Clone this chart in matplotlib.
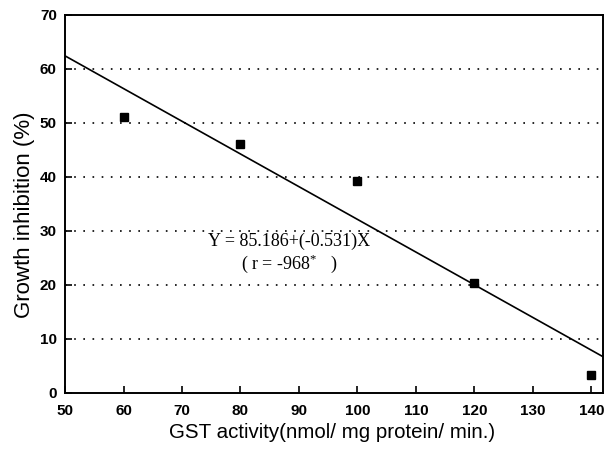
import matplotlib
matplotlib.use("Agg")
import matplotlib.pyplot as plt
import numpy as np

plt.rcParams["font.family"] = ["Liberation Sans", "DejaVu Sans"]
plt.rcParams["mathtext.fontset"] = "custom"
plt.rcParams["mathtext.rm"] = "Liberation Serif"
plt.rcParams["mathtext.default"] = "rm"

# measured points
gst = [60, 80, 100, 120, 140]
inhibition = [51.0, 46.1, 39.2, 20.4, 3.3]

# regression line as drawn (end points)
line_x = [50, 142]
line_y = [62.4, 6.7]

xticks = list(range(50, 150, 10))
yticks = list(range(0, 80, 10))
grid_y = [10, 20, 30, 40, 50, 60]

fig = plt.figure(figsize=(6.14, 4.5), dpi=100)
ax = fig.add_axes([0.106, 0.127, 0.876, 0.840])

for g in grid_y:
    ax.axhline(g, color="black", lw=1.2, ls=(0, (1, 4.5)), zorder=1)

ax.plot(line_x, line_y, color="black", lw=1.2, zorder=2)
ax.plot(gst, inhibition, ls="none", marker="s", ms=6, color="black", zorder=3)

ax.text(88.3, 25.8, "Y = 85.186+(-0.531)X\n( r = -968$^{*}$   )",
        family="Liberation Serif", fontsize=13, ha="center", va="center",
        linespacing=1.15)

ax.set_xlim(50, 142)
ax.set_ylim(0, 70)
ax.set_xticks(xticks)
ax.set_yticks(yticks)
ax.tick_params(direction="in", length=5, width=1.2, labelsize=11)
ax.tick_params(axis="x", pad=8)
ax.tick_params(axis="y", pad=6)
for lab in ax.get_xticklabels() + ax.get_yticklabels():
    lab.set_fontweight("bold")
for s in ax.spines.values():
    s.set_linewidth(1.4)

ax.set_xlabel("GST activity(nmol/ mg protein/ min.)", fontsize=14.8)
ax.set_ylabel("Growth inhibition (%)", fontsize=16)
ax.xaxis.set_label_coords(0.496, -0.08)
ax.yaxis.set_label_coords(-0.056, 0.47)

fig.savefig("out.png", dpi=100, facecolor="white")
plt.close(fig)
